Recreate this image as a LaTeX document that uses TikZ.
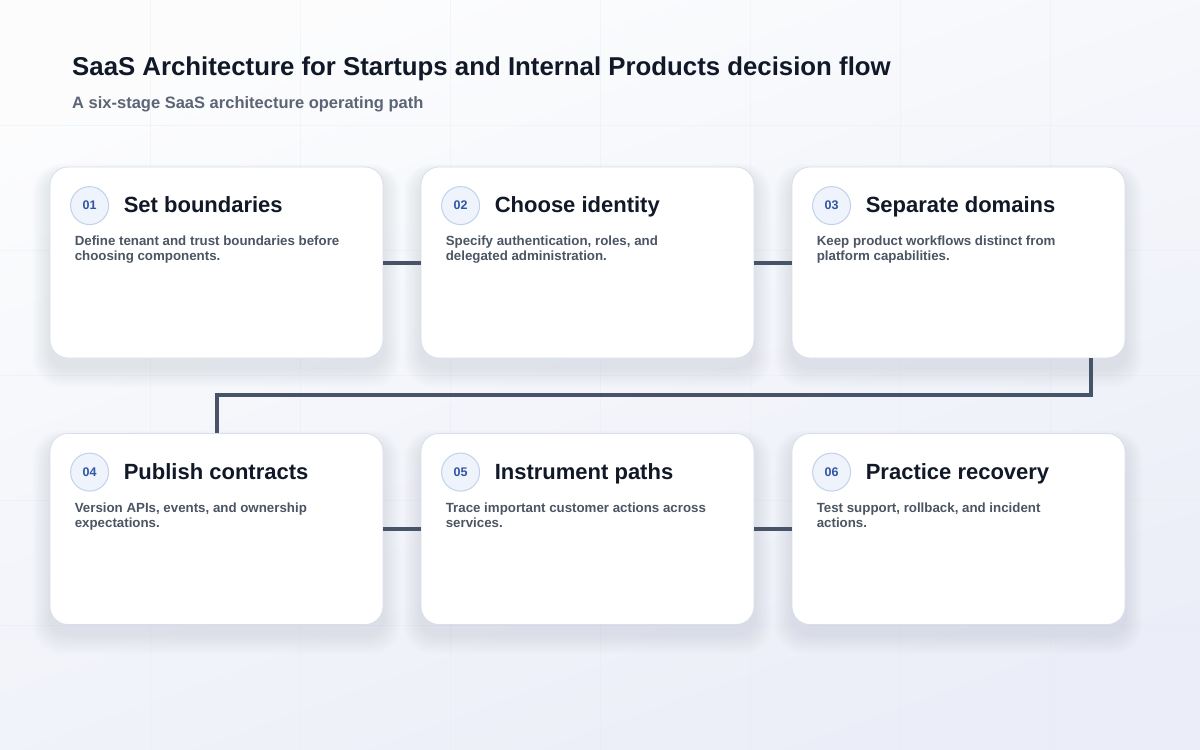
\documentclass[tikz,border=0pt]{standalone}
\usepackage{fontspec}
\setmainfont{Liberation Sans}
\usetikzlibrary{calc}

\definecolor{inkc}{HTML}{111827}
\definecolor{textc}{HTML}{4B5563}
\definecolor{subc}{HTML}{5B6575}
\definecolor{linkc}{HTML}{475467}
\definecolor{edgec}{HTML}{D8DFEA}
\definecolor{badgec}{HTML}{EEF3FC}
\definecolor{badgeedge}{HTML}{C3D1EA}
\definecolor{numc}{HTML}{2F55A4}
\definecolor{gridc}{HTML}{E4E9F1}
\definecolor{shadowc}{HTML}{8A98B8}

\tikzset{
  card/.style={draw=edgec, line width=0.8pt, fill=white, rounded corners=18pt,
    minimum width=333pt, minimum height=191pt, inner sep=0pt},
  badge/.style={circle, draw=badgeedge, line width=1pt, fill=badgec, minimum size=38pt,
    inner sep=0pt, text=numc, font=\fontsize{12.5}{12.5}\selectfont\bfseries},
  headline/.style={anchor=base west, inner sep=0pt, text=inkc, font=\fontsize{22}{24}\selectfont\bfseries},
  blurb/.style={anchor=north west, inner sep=0pt, text width=272pt, align=flush left, text=textc,
    font=\fontsize{13.3}{15}\selectfont\bfseries},
  link/.style={draw=linkc, line width=4pt},
}

\begin{document}
\begin{tikzpicture}[x=1pt, y=-1pt]
\useasboundingbox (0,0) rectangle (1200,750);

% background and faint grid
\shade[top color=white!40!gridc!20, bottom color=blue!4!gridc!55, shading angle=20] (0,0) rectangle (1200,750);
\foreach \x in {150,300,...,1050}
  \draw[gridc, line width=0.6pt, opacity=0.35] (\x,0) -- (\x,750);
\foreach \y in {125,250,...,625}
  \draw[gridc, line width=0.6pt, opacity=0.35] (0,\y) -- (1200,\y);

% titles
\node[anchor=west, inner sep=0pt, text=inkc, font=\fontsize{25.8}{28}\selectfont\bfseries] (title) at (72,69)
  {SaaS Architecture for Startups and Internal Products decision flow};
\node[anchor=west, inner sep=0pt, text=subc, font=\fontsize{16.5}{18}\selectfont\bfseries] (subtitle) at (72,104)
  {A six-stage SaaS architecture operating path};

% soft shadows
\foreach \x/\y in {216.5/262.5, 587.5/262.5, 958.5/262.5, 216.5/529, 587.5/529, 958.5/529}
  \foreach \k in {1,...,10}
    \fill[shadowc, opacity=0.02, rounded corners=18pt+\k pt]
      (\x-166.5-1.7*\k, \y-95.5+9-1.2*\k) rectangle (\x+166.5+1.7*\k, \y+95.5+9+2*\k);

% stage cards
\foreach \n/\x/\y/\t/\d in {
  1/216.5/262.5/{Set boundaries}/{Define tenant and trust boundaries before choosing components.},
  2/587.5/262.5/{Choose identity}/{Specify authentication, roles, and delegated administration.},
  3/958.5/262.5/{Separate domains}/{Keep product workflows distinct from platform capabilities.},
  4/216.5/529/{Publish contracts}/{Version APIs, events, and ownership expectations.},
  5/587.5/529/{Instrument paths}/{Trace important customer actions across services.},
  6/958.5/529/{Practice recovery}/{Test support, rollback, and incident actions.}}
{
  \node[card] (c\n) at (\x,\y) {};
  \node[badge] (b\n) at ($(c\n.north west)+(40,39)$) {0\n};
  \node[headline] (h\n) at ($(c\n.north west)+(74,46)$) {\t};
  \node[blurb] (d\n) at ($(c\n.north west)+(25,69.5)$) {\d};
}

% connectors
\coordinate (turn) at (1091,395);
\draw[link] (c1) -- (c2);
\draw[link] (c2) -- (c3);
\draw[link] (c3.south -| turn) -- (turn) -- (turn -| c4.north) -- (c4.north);
\draw[link] (c4) -- (c5);
\draw[link] (c5) -- (c6);

\end{tikzpicture}
\end{document}
